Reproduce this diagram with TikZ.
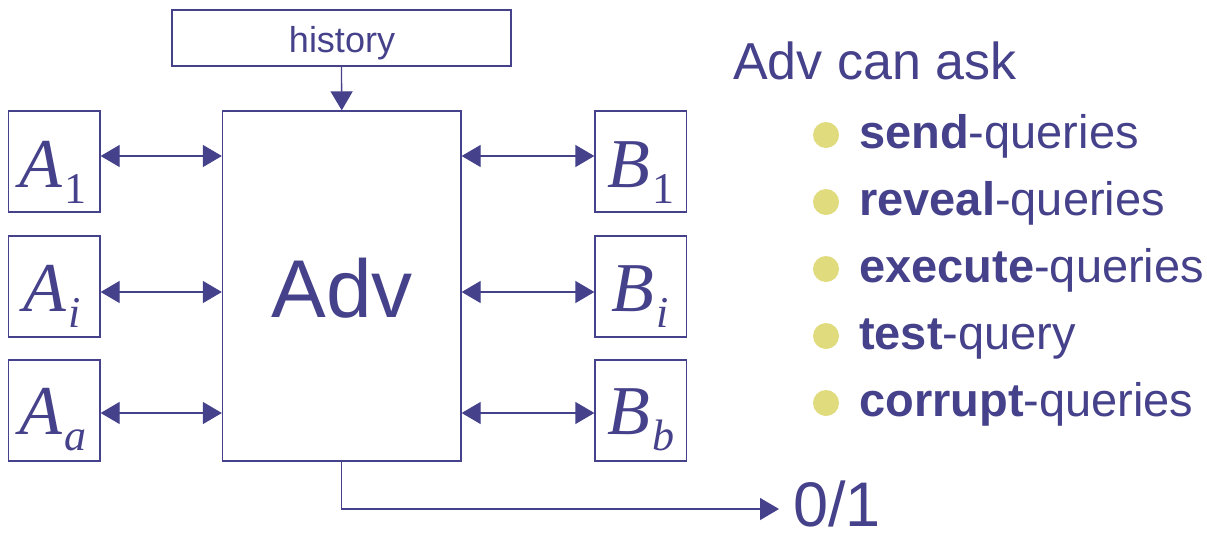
\documentclass[tikz,border=0pt]{standalone}
\usepackage{fontspec}
\setmainfont{Liberation Sans}
\newfontfamily\tmsfont{Liberation Serif}
\usetikzlibrary{arrows.meta}
\definecolor{ink}{HTML}{45418A}
\definecolor{bul}{HTML}{E0DC7E}
\newcommand{\symlbl}[2]{{\tmsfont\itshape\fontsize{70}{70}\selectfont #1\kern2pt\raisebox{-16pt}{\fontsize{44}{44}\selectfont #2}}}
\begin{document}
\begin{tikzpicture}[x=1pt,y=-1pt,
  box/.style={draw=ink, line width=1.3pt, inner sep=0pt},
  link/.style={draw=ink, line width=1.3pt},
  onetip/.style={-{Triangle[length=19pt,width=22pt]}},
  twotip/.style={{Triangle[length=19pt,width=22pt]}-{Triangle[length=19pt,width=22pt]}},
  lbl/.style={text=ink, inner sep=0pt, anchor=base},
  item/.style={text=ink, inner sep=0pt, anchor=base west, font=\fontsize{47}{47}\selectfont},
  dot/.style={fill=bul, draw=none, circle, minimum size=26pt, inner sep=0pt}]
\useasboundingbox (0,0) rectangle (1207,536);
\fill[white] (0,0) rectangle (1207,536);

% boxes
\node[box, minimum width=339pt, minimum height=56pt] (hist) at (341.5,38) {};
\node[box, minimum width=238.5pt, minimum height=350pt] (adv) at (341.75,286) {};
\node[box, minimum width=91.5pt, minimum height=101pt] (A1) at (54.25,161.5) {};
\node[box, minimum width=91.5pt, minimum height=101pt] (Ai) at (54.25,286.5) {};
\node[box, minimum width=91.5pt, minimum height=101pt] (Aa) at (54.25,410.5) {};
\node[box, minimum width=91.5pt, minimum height=101pt] (B1) at (640.75,161.5) {};
\node[box, minimum width=91.5pt, minimum height=101pt] (Bi) at (640.75,286.5) {};
\node[box, minimum width=91.5pt, minimum height=101pt] (Bb) at (640.75,410.5) {};

% labels
\node[lbl, font=\fontsize{36}{36}\selectfont] (histtxt) at (342,52) {history};
\node[lbl, font=\fontsize{82}{82}\selectfont] (advtxt) at (342,317) {Adv};
\node[lbl] (A1t) at (53,187) {\symlbl{A}{\upshape 1}};
\node[lbl] (Ait) at (52,311) {\symlbl{A}{i}};
\node[lbl] (Aat) at (53,434) {\symlbl{A}{a}};
\node[lbl] (B1t) at (641,187) {\symlbl{B}{\upshape 1}};
\node[lbl] (Bit) at (640,311) {\symlbl{B}{i}};
\node[lbl] (Bbt) at (641,434) {\symlbl{B}{b}};

% rows for arrows
\coordinate (r1) at (0,156);
\coordinate (r2) at (0,292);
\coordinate (r3) at (0,413);

\draw[link,twotip] (A1.east |- r1) -- (adv.west |- r1);
\draw[link,twotip] (Ai.east |- r2) -- (adv.west |- r2);
\draw[link,twotip] (Aa.east |- r3) -- (adv.west |- r3);
\draw[link,twotip] (adv.east |- r1) -- (B1.west |- r1);
\draw[link,twotip] (adv.east |- r2) -- (Bi.west |- r2);
\draw[link,twotip] (adv.east |- r3) -- (Bb.west |- r3);

\draw[link,onetip] (hist.south) -- (adv.north);

% output
\node[text=ink, inner sep=0pt, anchor=base west, font=\fontsize{63}{63}\selectfont] (out) at (793,526) {0/1};
\coordinate (outend) at (779,509);
\draw[link,onetip] (adv.south) |- (outend);

% list
\node[text=ink, inner sep=0pt, anchor=base west, font=\fontsize{52}{52}\selectfont] (title) at (733,79) {Adv can ask};
\node[dot] (d1) at (826,135) {};
\node[dot] (d2) at (826,202) {};
\node[dot] (d3) at (826,269) {};
\node[dot] (d4) at (826,336) {};
\node[dot] (d5) at (826,403) {};
\node[item] (q1) at (859,148) {\textbf{send}-queries};
\node[item] (q2) at (859,215) {\textbf{reveal}-queries};
\node[item] (q3) at (859,282) {\textbf{execute}-queries};
\node[item] (q4) at (859,349) {\textbf{test}-query};
\node[item] (q5) at (859,416) {\textbf{corrupt}-queries};
\end{tikzpicture}
\end{document}
